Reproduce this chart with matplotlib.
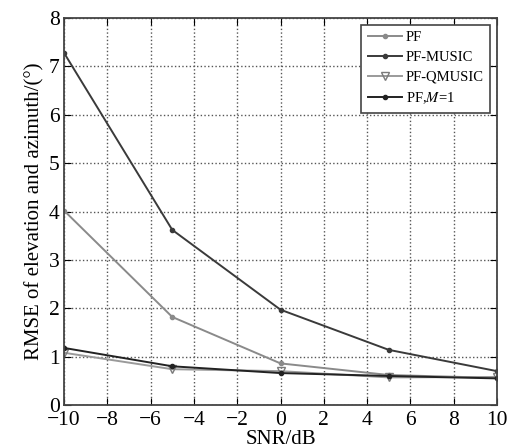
import matplotlib
matplotlib.use("Agg")
import matplotlib.pyplot as plt

snr = [-10, -5, 0, 5, 10]
pf = [4.02, 1.82, 0.86, 0.62, 0.56]
pf_music = [7.28, 3.62, 1.97, 1.14, 0.70]
pf_qmusic = [1.08, 0.74, 0.70, 0.57, 0.58]
pf_m1 = [1.18, 0.80, 0.66, 0.60, 0.55]

xticks = [-10, -8, -6, -4, -2, 0, 2, 4, 6, 8, 10]
yticks = [0, 1, 2, 3, 4, 5, 6, 7, 8]

plt.rcParams['font.family'] = ['Liberation Serif', 'DejaVu Serif']
plt.rcParams['mathtext.fontset'] = 'stix'
plt.rcParams['axes.unicode_minus'] = True

fig = plt.figure(figsize=(5.08, 4.48), dpi=100)
ax = fig.add_axes([64/508, 1-405/448, 433/508, 387/448])

ax.plot(snr, pf, color='#8a8a8a', lw=1.4, marker='o', ms=3, label='PF')
ax.plot(snr, pf_music, color='#3a3a3a', lw=1.4, marker='o', ms=3, label='PF-MUSIC')
ax.plot(snr, pf_qmusic, color='#9a9a9a', lw=1.4, marker='v', ms=6, mfc='none', mec='#7a7a7a', label='PF-QMUSIC')
ax.plot(snr, pf_m1, color='#222222', lw=1.4, marker='o', ms=3, label='PF,$\\mathit{M}$=1')

ax.set_xlim(-10, 10)
ax.set_ylim(0, 8)
ax.set_xticks(xticks)
ax.set_yticks(yticks)
ax.grid(True, ls=':', color='#555555', lw=1.0)
ax.tick_params(direction='in', top=True, right=True, labelsize=15.5, length=5)
ax.tick_params(axis='x', pad=4)
ax.tick_params(axis='y', pad=3)
for s in ax.spines.values():
    s.set_linewidth(1.3)
    s.set_color('#444444')
ax.set_xlabel('SNR/dB', fontsize=15, labelpad=0)
ax.set_ylabel('RMSE of elevation and azimuth/(°)', fontsize=15, labelpad=3)

leg = ax.legend(loc='upper right', fontsize=10.5, fancybox=False, framealpha=1,
                edgecolor='#444444', borderaxespad=0.45, handlelength=2.3,
                handletextpad=0.3, borderpad=0.45, labelspacing=0.45)
leg.get_frame().set_linewidth(1.2)

fig.savefig('out.png', dpi=100)
